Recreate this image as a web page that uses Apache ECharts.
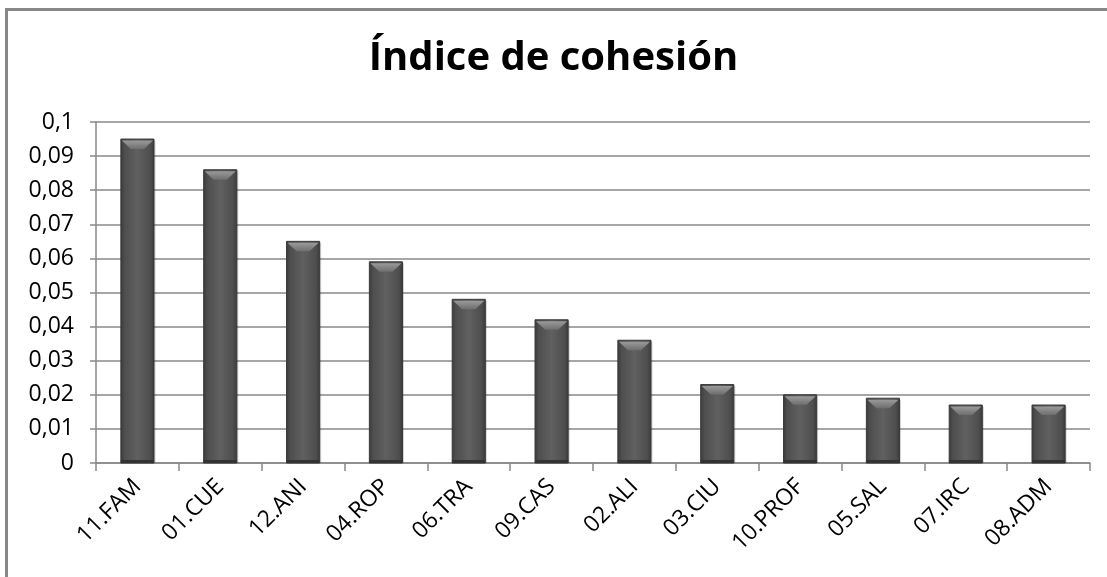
<!DOCTYPE html>
<html>
<head>
<meta charset="utf-8">
<script src="https://cdn.jsdelivr.net/npm/echarts@6/dist/echarts.min.js"></script>
<style>html,body{margin:0;padding:0;background:#fff}#c{width:1107px;height:577px}</style>
</head>
<body>
<div id="c"></div>
<script>
const categories = ['11.FAM','01.CUE','12.ANI','04.ROP','06.TRA','09.CAS','02.ALI','03.CIU','10.PROF','05.SAL','07.IRC','08.ADM'];
const values = [0.095,0.086,0.065,0.059,0.048,0.042,0.036,0.023,0.020,0.019,0.017,0.017];
const titleText = 'Índice de cohesión';

const chart = echarts.init(document.getElementById('c'), null, {renderer:'canvas'});

function renderBar(params, api){
  const top = api.coord([api.value(0), api.value(1)]);
  const base = api.coord([api.value(0), 0]);
  const w = api.size([1,0])[0]*0.4;
  const x0 = top[0]-w/2, x1 = top[0]+w/2, y0 = top[1], y1 = base[1];
  const bev = Math.min(10, (y1-y0)/2);
  const inset = 10;
  return {type:'group', children:[
    {type:'rect', shape:{x:x0+1.5,y:y0+1.5,width:w,height:y1-y0-1.5},
      style:{fill:'rgba(0,0,0,0.18)'}},
    {type:'rect', shape:{x:x0,y:y0,width:w,height:y1-y0},
      style:{fill:new echarts.graphic.LinearGradient(0,0,1,0,[
        {offset:0,color:'#383838'},{offset:0.12,color:'#4e4e4e'},{offset:0.5,color:'#606060'},{offset:0.88,color:'#4e4e4e'},{offset:1,color:'#383838'}]),
        stroke:'#3a3a3a', lineWidth:1}},
    {type:'polygon', shape:{points:[[x0+1,y0+1.5],[x1-1,y0+1.5],[x1-inset,y0+bev],[x0+inset,y0+bev]]},
      style:{fill:new echarts.graphic.LinearGradient(0,0,0,1,[
        {offset:0,color:'#9a9a9a'},{offset:1,color:'#6e6e6e'}])}},
    {type:'rect', shape:{x:x0,y:y1-3,width:w,height:3}, style:{fill:'#333'}}
  ]};
}

chart.setOption({
  animation:false,
  backgroundColor:'#fff',
  title:{text:titleText,left:'center',top:34,textStyle:{fontFamily:'Open Sans',fontWeight:'bold',fontSize:40,color:'#000'}},
  graphic:[{type:'rect',shape:{x:6.5,y:9.5,width:1200,height:700},style:{fill:null,stroke:'#888',lineWidth:3},z:100}],
  grid:{left:96,right:17,top:122,bottom:114},
  xAxis:{type:'category',data:categories,
    axisLine:{lineStyle:{color:'#888',width:1.5}},
    axisTick:{show:true,length:8,lineStyle:{color:'#888',width:1.5}},
    axisLabel:{rotate:45,fontFamily:'Open Sans',fontSize:23,color:'#000',margin:20}},
  yAxis:{type:'value',min:0,max:0.1,interval:0.01,
    axisLine:{show:true,lineStyle:{color:'#888',width:1.5}},
    axisTick:{show:true,length:6,lineStyle:{color:'#888',width:1.5}},
    splitLine:{lineStyle:{color:'#888',width:1.5}},
    axisLabel:{fontFamily:'Open Sans',fontSize:23,color:'#000',margin:22,
      formatter:v=>String(Math.round(v*100)/100).replace('.',',')}},
  series:[{type:'custom',renderItem:renderBar,encode:{x:0,y:1},
    data:values.map((v,i)=>[i,v])}]
});
</script>
</body>
</html>
